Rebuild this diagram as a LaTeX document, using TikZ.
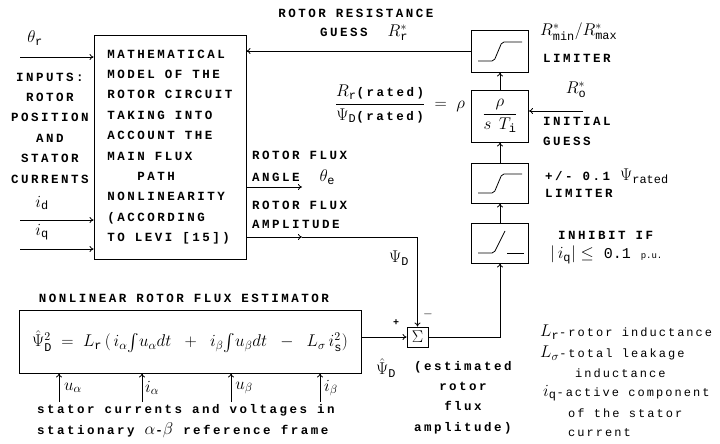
\RequirePackage{fix-cm}
\documentclass[tikz,border=0pt]{standalone}
\usepackage{amsmath}
\usepackage{fontspec}
\usepackage{tikz}
\usetikzlibrary{arrows.meta, positioning, calc}
\newfontfamily\plotfont{Liberation Mono}[LetterSpace=20]
\newfontfamily\legfont{Liberation Mono}[LetterSpace=17]
\newfontfamily\plainmono{Liberation Mono}
\setmonofont{Liberation Mono}
\newcommand{\mbig}[1]{{\fontsize{17}{20}\selectfont$#1$}}
\tikzset{
	blk/.style  ={rectangle, draw=black, line width=0.9pt, inner sep=0pt},
	sumj/.style ={rectangle, draw=black, line width=0.9pt, minimum width=21pt, minimum height=20pt, inner sep=0pt},
	sig/.style  ={-{To[length=4pt, width=6pt]}, line width=0.8pt},
	lbl/.style  ={inner sep=0pt, anchor=west},
	leg/.style  ={lbl, font=\legfont\fontsize{12}{14}\selectfont},
	curve/.style={line width=0.8pt, rounded corners=2pt},
}

\begin{document}
\begin{tikzpicture}[x=1pt, y=-1pt, font=\plotfont\bfseries\fontsize{12.5}{20.4}\selectfont]
	\useasboundingbox (0,0) rectangle (720,444);
	% rotor model
	\node[blk, minimum width=152pt, minimum height=224pt, align=left] (model) at (170,147)
		{MATHEMATICAL\\MODEL OF THE\\ROTOR CIRCUIT\\TAKING INTO\\ACCOUNT THE\\MAIN FLUX\\\hspace*{30pt}PATH\\NONLINEARITY\\(ACCORDING\\TO LEVI [15])};
	% flux estimator and summing junction
	\node[blk, minimum width=342pt, minimum height=63pt] (est) at (190,341.5)
		{{\fontsize{17}{19}\selectfont$\hat{\Psi}^{2}_{\mathtt{D}} \;=\; L_{\mathtt{r}}\,(\,i_{\alpha}\!\int\! u_{\alpha}dt \;\;+\;\; i_{\beta}\!\int\! u_{\beta}dt \;\;-\;\; L_{\sigma}\,i^{2}_{\mathtt{s}})$}};
	\node (esttitle) at (184,298) {NONLINEAR ROTOR FLUX ESTIMATOR};
	\node[sumj] (sum) at (417.5,337) {\mbig{\Sigma}};
	% adaptation chain
	\node[blk, minimum width=57pt, minimum height=42pt] (lim1) at (500,51) {};
	\node[blk, minimum width=57pt, minimum height=52pt] (pi) at (500,116) {\mbig{\dfrac{\rho}{s\;\,T_{\mathtt{i}}}}};
	\node[blk, minimum width=57pt, minimum height=40pt] (lim2) at (500,183) {};
	\node[blk, minimum width=57pt, minimum height=40pt] (inhib) at (500,243) {};
	\draw[curve] ($(lim1)+(-22,10)$) -- ++(16,0) -- ++(8,-19) -- ++(20,0);
	\draw[curve] ($(lim2)+(-22,10)$) -- ++(16,0) -- ++(8,-19) -- ++(20,0);
	\draw[curve] ($(inhib)+(-22,10)$) -- ++(16,0) -- ++(11,-22);
	\draw[curve] ($(inhib)+(7,10)$) -- ++(17,0);

	% inputs of the model
	\coordinate (thr) at (20,57);
	\coordinate (idin) at (20,220);
	\coordinate (iqin) at (20,249);
	\draw[sig] (thr) -- (thr -| model.west);
	\draw[sig] (idin) -- (idin -| model.west);
	\draw[sig] (iqin) -- (iqin -| model.west);
	\node (thrlbl) at (35,38) {\mbig{\theta_{\mathtt{r}}}};
	\node[align=center] (inputs) at (50,128) {INPUTS:\\ROTOR\\POSITION\\AND\\STATOR\\CURRENTS};
	\node (idlbl) at (42,203) {\mbig{i_{\mathtt{d}}}};
	\node (iqlbl) at (42,232) {\mbig{i_{\mathtt{q}}}};

	% outputs of the model
	\node[lbl] (angtxt) at (252,155) {ROTOR FLUX};
	\node[lbl] (angtxt2) at (252,177) {ANGLE~~\mbig{\theta_{\mathtt{e}}}};
	\node[lbl] (amptxt) at (252,205) {ROTOR FLUX};
	\node[lbl] (amptxt2) at (252,224) {AMPLITUDE};
	\coordinate (ang) at (302,187);
	\coordinate (amp) at (302,237);
	\draw[sig] (ang -| model.east) -- (ang);
	\draw[sig] (amp -| model.east) -- (amp);
	\draw[sig] (amp) -| (sum.north);
	\node (psiD) at (399,258) {\mbig{\Psi_{\mathtt{D}}}};
	\node (minus) at (428,314) {$-$};
	\node (plus) at (396,323) {\fontsize{10}{10}\selectfont +};

	% estimator inputs and output
	\draw[sig] (est.east |- sum.west) -- (sum.west);
	\coordinate (ua) at (59,402);
	\coordinate (ia) at (142,402);
	\coordinate (ub) at (231,402);
	\coordinate (ib) at (320,402);
	\draw[sig] (ua) -- (ua |- est.south);
	\draw[sig] (ia) -- (ia |- est.south);
	\draw[sig] (ub) -- (ub |- est.south);
	\draw[sig] (ib) -- (ib |- est.south);
	\node (ualbl) at (73,388) {\mbig{u_{\alpha}}};
	\node (ialbl) at (152,388) {\mbig{i_{\alpha}}};
	\node (ublbl) at (244,388) {\mbig{u_{\beta}}};
	\node (iblbl) at (331,388) {\mbig{i_{\beta}}};
	\node[lbl, align=left] (stattxt) at (37,421) {stator currents and voltages in\\stationary \mbig{\alpha}-\mbig{\beta} reference frame};
	\node (psihat) at (386,368) {\mbig{\hat{\Psi}_{\mathtt{D}}}};
	\node[align=center] (esttxt) at (463,397.5) {(estimated\\rotor\\flux\\amplitude)};

	% adaptation loop
	\draw[sig] (sum.east) -| (inhib.south);
	\draw[sig] (inhib.north) -- (lim2.south);
	\draw[sig] (lim2.north) -- (pi.south);
	\draw[sig] (pi.north) -- (lim1.south);
	\draw[sig] (lim1.west) -- (lim1.west -| model.east);
	\coordinate (ro) at (583,111);
	\draw[sig] (ro) -- (ro -| pi.east);
	\node (rrtxt) at (356,13) {ROTOR RESISTANCE};
	\node[lbl] (rrguess) at (320,33) {GUESS~~\mbig{R^{*}_{\mathtt{r}}}};
	\node (ratio) at (400,104) {\mbig{\dfrac{R_{\mathtt{r}}\text{\plotfont\bfseries\fontsize{12.5}{14}\selectfont(rated)}}{\Psi_{\mathtt{D}}\text{\plotfont\bfseries\fontsize{12.5}{14}\selectfont(rated)}} \;=\; \rho}};

	% block annotations
	\node[lbl] (rlim) at (540,32) {\mbig{R^{*}_{\mathtt{min}}/R^{*}_{\mathtt{max}}}};
	\node[lbl] (rlimtxt) at (543,58) {LIMITER};
	\node (rolbl) at (576,90) {\mbig{R^{*}_{\mathtt{o}}}};
	\node[lbl] (initxt) at (543,121) {INITIAL};
	\node[lbl] (guesstxt) at (543,141) {GUESS};
	\node[lbl] (psilim) at (545,176) {+/- 0.1 \mbig{\Psi_{\mathtt{rated}}}};
	\node[lbl] (psilimtxt) at (545,193) {LIMITER};
	\node[lbl] (inhtxt) at (558,235) {INHIBIT IF};
	\node[lbl] (inhcond) at (550,255) {\mbig{|\,i_{\mathtt{q}}| \le}~{\plainmono\mdseries\fontsize{15}{18}\selectfont 0.1}~{\plainmono\mdseries\fontsize{9}{12}\selectfont p.u.}};

	% legend
	\node[leg] (lgr) at (540,332) {\mbig{L_{\mathtt{r}}}-rotor inductance};
	\node[leg] (lgs) at (540,353) {\mbig{L_{\sigma}}-total leakage};
	\node[leg] (lgs2) at (575,373) {inductance};
	\node[leg] (lgq) at (543,393) {\mbig{i_{\mathtt{q}}}-active component};
	\node[leg] (lgq2) at (568,413) {of the stator};
	\node[leg] (lgq3) at (568,433) {current};
\end{tikzpicture}
\end{document}
